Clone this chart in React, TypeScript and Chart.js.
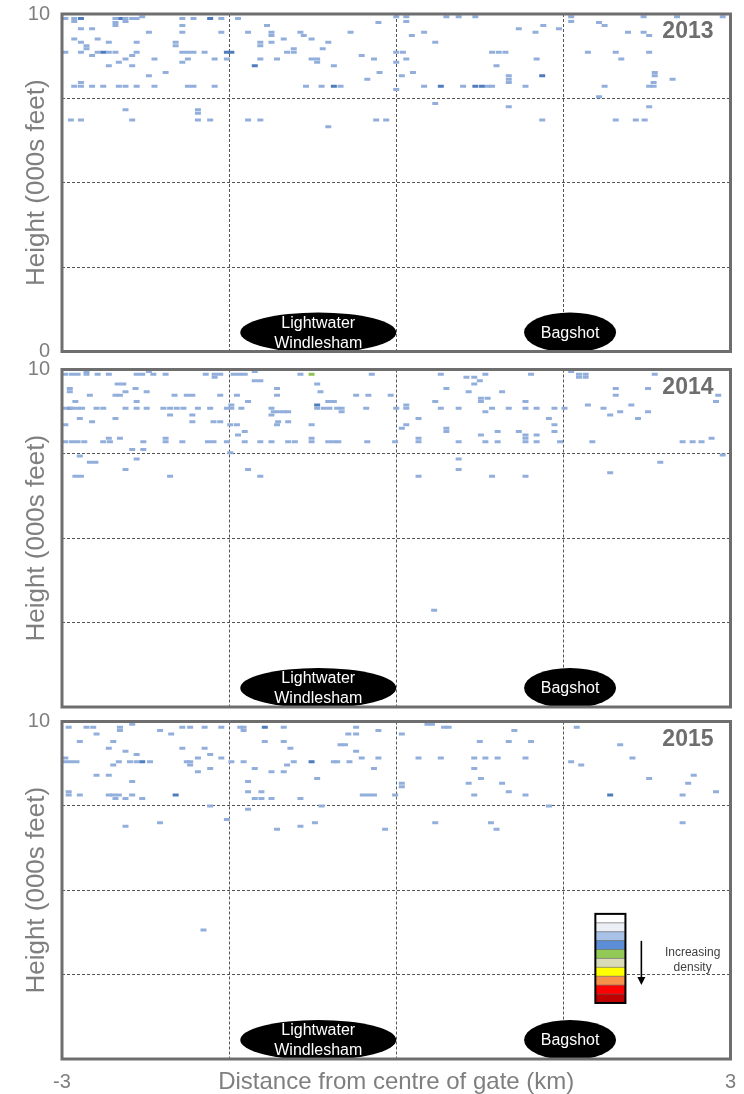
import React, { useEffect, useRef } from 'react';
import { Chart, registerables } from 'chart.js';

Chart.register(...registerables);

type Row = [number, number[]];
type Pt = [number, number];

const FONT = '"Liberation Sans", Arial, Helvetica, sans-serif';
const LIGHT = '#92afdc';
const DARK = '#4f7cbc';
const GREEN = '#8dc255';
const GRID = '#555555';
const TEXT = '#7f7f7f';

// ---- data: height (000s ft) rows with distances (km) of light-density cells ----
const light2013: Row[] = [
  [9.92, [-2.28, 0.0, 0.09, 0.45, 0.56, 0.71, 1.57, 2.22, 2.52, 2.93]],
  [9.87, [-2.97, -2.89, -2.52, -2.43, -2.37, -2.33, -1.92, -1.82, -1.57, -1.42]],
  [9.78, [-2.89, -2.43, 0.09, 1.57]],
  [9.75, [-2.52, -0.16, 1.82]],
  [9.66, [-2.52, -1.92, -1.16, 1.32, 1.87]],
  [9.56, [-2.83, -2.73, 1.1, 1.46]],
  [9.46, [-2.22, -1.92, -1.57, -1.33, -1.12, -0.86, -0.41, 0.25, 1.25, 2.08, 2.22]],
  [9.36, [-1.12, -0.83, 0.14, 2.27]],
  [9.26, [-2.89, -2.68, -1.01, -0.76]],
  [9.16, [-2.83, -2.58, -2.33, -1.98, -1.22, -1.12, -0.61, 0.35]],
  [9.06, [-2.78, -1.98, -1.22]],
  [8.97, [-2.78, -0.92, -0.66]],
  [8.87, [-2.97, -2.83, -2.68, -2.58, -2.52, -2.33, -1.92, -1.87, -1.82, -1.72, -0.98, -0.92, 0.0, 0.06, 0.86, 0.92, 0.98, 1.72, 1.97, 2.27]],
  [8.77, [-2.73, -2.37, -0.31]],
  [8.67, [-2.43, -2.17, -1.87, -1.63, -1.52, -1.22, -1.07, -0.76, -0.71, -0.2, 0.09, 1.26, 2.02]],
  [8.57, [-2.49, -1.92, -0.71, 0.0]],
  [8.47, [-2.58, -2.37, -0.56, 0.9]],
  [8.27, [-2.07, -0.15, 0.15, 2.32]],
  [8.17, [-2.22, 0.05, 1.01, 2.32]],
  [8.07, [-0.26, 1.01, 2.48]],
  [7.97, [-2.83, 1.01, 2.31]],
  [7.86, [-2.89, -2.83, -2.73, -2.63, -2.49, -2.43, -2.33, -2.17, -1.87, -1.82, -1.63, -0.81, -0.67, -0.5, 0.25, 0.6, 0.82, 0.86, 1.16, 1.87, 2.27, 2.31]],
  [7.76, [0.0]],
  [7.55, [1.82]],
  [7.35, [0.35]],
  [7.25, [1.01, 2.27]],
  [7.16, [-2.43, -1.78]],
  [7.06, [-1.78]],
  [6.86, [-2.92, -2.83, -2.37, -1.78, -1.67, -1.33, -1.22, -0.18, -0.09, 1.31, 1.97, 2.15, 2.23]],
  [6.66, [-0.61]],
];
const dark2013: Pt[] = [
  [-2.83, 9.87], [-2.47, 9.87], [-1.67, 9.87], [-2.63, 8.87], [-1.52, 8.87], [-1.48, 8.87],
  [-1.27, 8.47], [-0.56, 7.86], [1.31, 8.17], [0.4, 7.86], [0.71, 7.86], [0.77, 7.86],
];
const green2013: Pt[] = [];

const light2014: Row[] = [
  [9.94, [-2.78, -2.22, -1.27, 1.57]],
  [9.86, [-2.97, -2.91, -2.86, -2.78, -2.68, -2.58, -2.33, -2.28, -2.18, -2.07, -1.71, -1.63, -1.58, -1.46, -1.41, -1.36, -0.86, -0.22, 0.4, 0.8, 1.21, 1.64, 1.7, 2.32]],
  [9.77, [-1.63, 0.63, 0.7, 1.64, 1.7]],
  [9.67, [-1.27, -1.22, 0.75]],
  [9.57, [-2.5, -2.45, -0.71, 0.7]],
  [9.44, [-2.93, -2.34, -1.07, 0.45, 1.97, 2.26]],
  [9.34, [-2.93, -2.43, -2.24, -0.68, 0.65, 0.95]],
  [9.24, [-2.75, -2.52, -2.48, -1.99, -1.88, -1.83, -1.58, -1.43, -1.07, -0.36, -0.25, -0.05, 1.97, 2.89]],
  [9.15, [0.76, 0.82]],
  [9.05, [-2.88, -2.33, -1.33, -0.61, -0.56, 0.35, 0.76, 1.16, 2.87]],
  [8.95, [-1.48, 0.09, 1.72, 2.11]],
  [8.85, [-2.97, -2.91, -2.86, -2.82, -2.69, -2.63, -2.43, -2.33, -2.24, -2.09, -2.03, -1.97, -1.91, -1.78, -1.67, -1.52, -1.48, -1.39, -1.12, -0.71, -0.65, -0.6, -0.53, -0.49, -0.27, 0.0, 0.09, 0.4, 0.56, 0.86, 1.01, 1.16, 1.26, 1.42, 1.51, 1.86]],
  [8.75, [-1.1, -1.06, -1.01, -0.97, -0.49, 0.8, 2.01, 2.26]],
  [8.65, [-2.03, -1.83, -1.12, 1.92]],
  [8.55, [-2.84, -2.52, 0.2, 1.37, 2.17]],
  [8.45, [-2.73, -1.83, -1.64, -1.58, -1.06, -0.97]],
  [8.36, [-2.97, -1.49, -1.43, -1.07, -0.76, 0.09, 1.42]],
  [8.26, [0.05, 0.45]],
  [8.16, [-1.36, 0.45, 0.91, 1.1, 1.42]],
  [8.06, [-1.42, 0.76, 1.16, 1.26]],
  [7.96, [-2.58, -2.48, -2.07, -0.76, 0.2, 1.16, 2.83]],
  [7.86, [-2.97, -2.91, -2.86, -2.8, -2.63, -2.57, -2.27, -2.07, -1.92, -1.69, -1.64, -1.52, -1.36, -1.22, -1.12, -0.97, -0.91, -0.76, -0.61, -0.56, -0.52, -0.26, -0.01, 0.2, 0.56, 0.8, 0.91, 1.16, 1.26, 1.47, 1.76, 2.57, 2.66, 2.74]],
  [7.63, [-2.37, -2.27]],
  [7.53, [-1.49]],
  [7.47, [2.93]],
  [7.44, [-2.84]],
  [7.35, [-2.33, 0.56]],
  [7.25, [-2.75, -2.7, 2.37]],
  [7.04, [-2.43, -1.33, 0.56]],
  [6.94, [1.92]],
  [6.84, [-2.88, -2.83, -2.03, -1.22, 0.2, 0.86, 1.16]],
  [2.87, [0.34]],
];
const dark2014: Pt[] = [[-0.71, 8.95], [-2.93, 8.85]];
const green2014: Pt[] = [[-0.76, 9.86]];

const light2015: Row[] = [
  [9.92, [-2.37, 0.28, 0.32]],
  [9.83, [-2.94, -2.78, -2.72, -2.48, -1.92, -1.85, -1.72, -1.57, -1.4, -1.37, -1.01, -0.36, 0.43, 0.47, 1.62]],
  [9.73, [-2.48, -2.12, -1.37, -0.16, 1.06]],
  [9.63, [-2.69, -2.02, -0.43, -0.36, 0.05]],
  [9.41, [-2.84, -2.54, -1.18, -1.01, 0.75, 1.01, 1.21]],
  [9.31, [-0.5, -0.46, 2.01]],
  [9.21, [-2.58, -1.92, -1.72, -0.95]],
  [9.12, [-2.43, -0.36]],
  [9.02, [-2.33, -1.67]],
  [8.92, [-2.97, -1.78, -1.57, -0.31, -0.16, 0.2, 0.4, 0.7, 0.8, 0.91, 1.16, 2.12]],
  [8.81, [-2.97, -2.92, -2.87, -2.49, -2.39, -2.33, -2.21, -1.88, -1.85, -1.48, -1.37, -0.92, -0.56, -0.53, -0.42, 1.57]],
  [8.71, [-2.54, -1.85, -0.98, 1.66]],
  [8.61, [-1.67, -1.27, -0.2, 0.7]],
  [8.51, [-1.78, -1.12, -1.01]],
  [8.41, [-2.69, -2.58, 2.67]],
  [8.31, [-0.71, 0.76, 2.27]],
  [8.22, [-2.37, -1.33]],
  [8.17, [0.05, 0.65, 0.95, 2.62]],
  [8.07, [0.05]],
  [7.92, [-2.94, -1.33, -1.21, 1.01, 2.87]],
  [7.82, [-2.94, -2.84, -2.58, -2.54, -2.49, -2.37, -0.3, -0.25, -0.2, -0.01, 0.7, 1.16, 2.57]],
  [7.72, [-2.52, -2.43, -2.28, -1.27, -1.21, -1.12, -0.86]],
  [7.5, [-1.67, -0.67, 1.37]],
  [7.4, [-1.33]],
  [7.1, [-1.52]],
  [7.0, [-2.12, -0.73, 0.35, 0.85, 2.57]],
  [6.9, [-2.43, -0.86]],
  [6.81, [-1.07, -0.1, 0.9]],
  [3.82, [-1.73]],
];
const dark2015: Pt[] = [[-1.18, 9.83], [-2.28, 8.81], [-0.76, 8.81], [-1.98, 7.82], [1.92, 7.82]];
const green2015: Pt[] = [];

// ---- axes / annotations ----
const xTickLabels = [-3, 3];
const yTickLabelsTop = [0, 10];
const yTickLabelsOther = [10];
const placeNames = [['Lightwater', 'Windlesham'], ['Bagshot']];
const placeX = [-0.7, 1.56];
const placeRx = [78, 46];
const densityColours = ['#ffffff', '#eceff5', '#a8c1e6', '#5b8ed6', '#92c957', '#dadcb8', '#ffff00', '#f7904a', '#ff0000', '#c00000'];

type PanelCfg = {
  year: string;
  light: Row[];
  dark: Pt[];
  green: Pt[];
  top: number;
  height: number;
  padTop: number;
  padBottom: number;
  yTicks: number[];
  showX: boolean;
  legend: boolean;
};

const panels: PanelCfg[] = [
  { year: '2013', light: light2013, dark: dark2013, green: green2013, top: 0, height: 366, padTop: 14, padBottom: 14.5, yTicks: yTickLabelsTop, showX: false, legend: false },
  { year: '2014', light: light2014, dark: dark2014, green: green2014, top: 356, height: 366, padTop: 13.5, padBottom: 15, yTicks: yTickLabelsOther, showX: false, legend: false },
  { year: '2015', light: light2015, dark: dark2015, green: green2015, top: 708, height: 386, padTop: 13.5, padBottom: 0, yTicks: yTickLabelsOther, showX: true, legend: true },
];

const rowsToPoints = (rows: Row[]) => rows.flatMap(([y, xs]) => xs.map((x) => ({ x, y })));
const pairsToPoints = (pts: Pt[]) => pts.map(([x, y]) => ({ x, y }));

function dashSet(data: { x: number; y: number }[], colour: string) {
  return {
    data,
    pointStyle: 'line' as const,
    pointRadius: 3,
    pointHoverRadius: 3,
    pointBorderWidth: 3,
    pointHoverBorderWidth: 3,
    pointBorderColor: colour,
    pointBackgroundColor: colour,
    showLine: false,
  };
}

function makePlugin(cfg: PanelCfg) {
  return {
    id: 'panelDecor' + cfg.year,
    afterDatasetsDraw(chart: any) {
      const { ctx, chartArea } = chart;
      const xs = chart.scales.x;
      const ys = chart.scales.y;
      ctx.save();
      // place ellipses
      placeNames.forEach((lines, i) => {
        const cx = xs.getPixelForValue(placeX[i]);
        const cy = chartArea.bottom - 19;
        ctx.beginPath();
        ctx.ellipse(cx, cy, placeRx[i], 20, 0, 0, Math.PI * 2);
        ctx.fillStyle = '#000000';
        ctx.fill();
        ctx.fillStyle = '#ffffff';
        ctx.font = '16px ' + FONT;
        ctx.textAlign = 'center';
        ctx.textBaseline = 'middle';
        if (lines.length === 2) {
          ctx.fillText(lines[0], cx, cy - 9);
          ctx.fillText(lines[1], cx, cy + 11);
        } else {
          ctx.fillText(lines[0], cx, cy + 1);
        }
      });
      // year label
      ctx.fillStyle = '#6e6e6e';
      ctx.font = 'bold 23px ' + FONT;
      ctx.textAlign = 'right';
      ctx.textBaseline = 'middle';
      ctx.fillText(cfg.year, chartArea.right - 17, chartArea.top + 18);
      // density legend
      if (cfg.legend) {
        const x0 = xs.getPixelForValue(1.787);
        const x1 = xs.getPixelForValue(2.057);
        const y0 = ys.getPixelForValue(4.3);
        const y1 = ys.getPixelForValue(1.66);
        const h = (y1 - y0) / densityColours.length;
        densityColours.forEach((c, i) => {
          ctx.fillStyle = c;
          ctx.fillRect(x0, y0 + i * h, x1 - x0, h);
        });
        ctx.strokeStyle = '#555555';
        ctx.lineWidth = 0.6;
        for (let i = 1; i < densityColours.length; i++) {
          ctx.beginPath();
          ctx.moveTo(x0, y0 + i * h);
          ctx.lineTo(x1, y0 + i * h);
          ctx.stroke();
        }
        ctx.strokeStyle = '#000000';
        ctx.lineWidth = 2;
        ctx.strokeRect(x0, y0, x1 - x0, y1 - y0);
        // arrow
        const ax = xs.getPixelForValue(2.2);
        const ay0 = ys.getPixelForValue(3.5);
        const ay1 = ys.getPixelForValue(2.19);
        ctx.beginPath();
        ctx.moveTo(ax, ay0);
        ctx.lineTo(ax, ay1 - 6);
        ctx.lineWidth = 1.6;
        ctx.stroke();
        ctx.beginPath();
        ctx.moveTo(ax - 4, ay1 - 8);
        ctx.lineTo(ax + 4, ay1 - 8);
        ctx.lineTo(ax, ay1);
        ctx.closePath();
        ctx.fillStyle = '#000000';
        ctx.fill();
        ctx.fillStyle = '#404040';
        ctx.font = '12px ' + FONT;
        ctx.textAlign = 'center';
        ctx.fillText('Increasing', xs.getPixelForValue(2.66), ys.getPixelForValue(3.14));
        ctx.fillText('density', xs.getPixelForValue(2.66), ys.getPixelForValue(2.7));
      }
      ctx.restore();
    },
    afterDraw(chart: any) {
      const { ctx, chartArea } = chart;
      ctx.save();
      ctx.strokeStyle = '#6e6e6e';
      ctx.lineWidth = 3;
      ctx.strokeRect(chartArea.left, chartArea.top, chartArea.right - chartArea.left, chartArea.bottom - chartArea.top);
      ctx.restore();
    },
  };
}

function Panel({ cfg }: { cfg: PanelCfg }) {
  const ref = useRef<HTMLCanvasElement>(null);
  useEffect(() => {
    const canvas = ref.current;
    if (!canvas) return;
    const datasets: any[] = [
      dashSet(rowsToPoints(cfg.light), LIGHT),
      dashSet(pairsToPoints(cfg.dark), DARK),
      dashSet(pairsToPoints(cfg.green), GREEN),
    ];
    const chart = new Chart(canvas, {
      type: 'scatter',
      data: { datasets },
      options: {
        animation: false,
        responsive: false,
        events: [],
        layout: { padding: { top: cfg.padTop, bottom: cfg.padBottom, left: 0, right: 13.5 } },
        plugins: { legend: { display: false }, tooltip: { enabled: false } },
        scales: {
          x: {
            type: 'linear',
            min: -3,
            max: 3,
            ticks: {
              display: cfg.showX,
              stepSize: 1.5,
              autoSkip: false,
              maxRotation: 0,
              padding: 11,
              color: TEXT,
              font: { family: FONT, size: 20 },
              callback: (v: any) => (xTickLabels.includes(Number(v)) ? String(v) : ''),
            },
            grid: {
              drawTicks: false,
              lineWidth: 1,
              color: (c: any) => (c.tick && Math.abs(c.tick.value) >= 2.99 ? 'rgba(0,0,0,0)' : GRID),
            },
            border: { display: false, dash: [3, 2] },
            title: {
              display: cfg.showX,
              text: 'Distance from centre of gate (km)',
              color: TEXT,
              font: { family: FONT, size: 24, lineHeight: 1 },
              padding: { top: 0, bottom: 0 },
            },
            afterFit: (s: any) => {
              s.height = cfg.showX ? 35 : 0;
              s.paddingLeft = 0;
              s.paddingRight = 0;
            },
          },
          y: {
            type: 'linear',
            min: 0,
            max: 10,
            ticks: {
              stepSize: 2.5,
              autoSkip: false,
              padding: 12,
              color: TEXT,
              font: { family: FONT, size: 20 },
              callback: (v: any) => (cfg.yTicks.includes(Number(v)) ? String(v) : ''),
            },
            grid: {
              drawTicks: false,
              lineWidth: 1,
              color: (c: any) => (c.tick && (c.tick.value <= 0.01 || c.tick.value >= 9.99) ? 'rgba(0,0,0,0)' : GRID),
            },
            border: { display: false, dash: [3, 2] },
            title: {
              display: true,
              text: 'Height (000s feet)',
              color: TEXT,
              font: { family: FONT, size: 26 },
              padding: { top: 21, bottom: 0 },
            },
            afterFit: (s: any) => {
              s.width = 62;
              s.paddingTop = 0;
              s.paddingBottom = 0;
            },
          },
        },
      },
      plugins: [makePlugin(cfg)],
    } as any);
    return () => chart.destroy();
  }, [cfg]);
  return (
    <canvas
      ref={ref}
      width={744}
      height={cfg.height}
      style={{ position: 'absolute', left: 0, top: cfg.top, width: 744, height: cfg.height }}
    />
  );
}

export default function App() {
  return (
    <div style={{ position: 'absolute', left: 0, top: 0, width: 744, height: 1094, background: '#ffffff', overflow: 'hidden' }}>
      {panels.map((p) => (
        <Panel key={p.year} cfg={p} />
      ))}
    </div>
  );
}
